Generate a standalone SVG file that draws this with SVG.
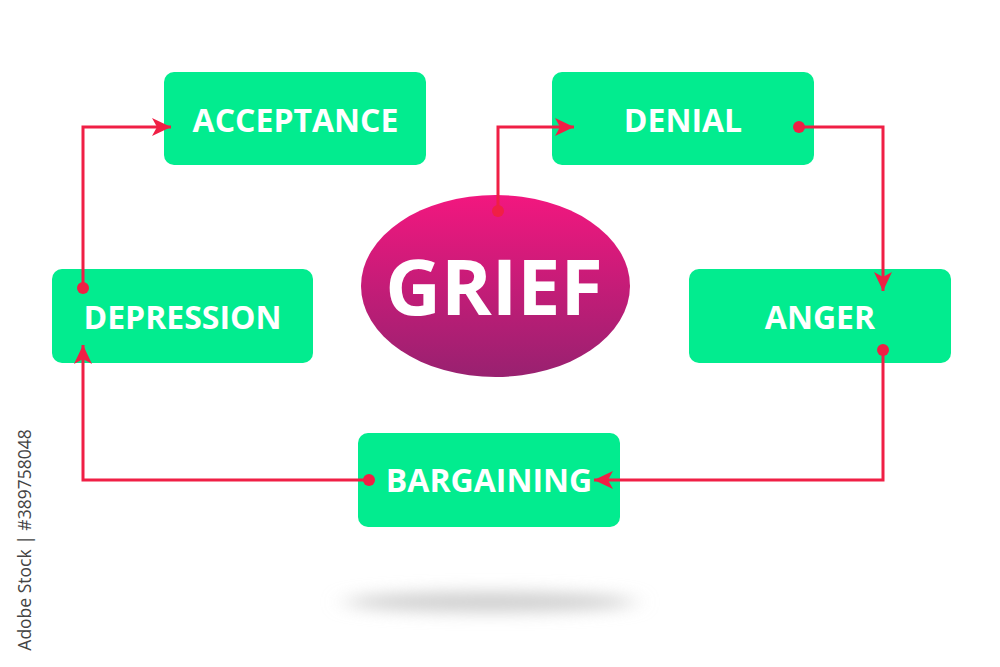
<svg xmlns="http://www.w3.org/2000/svg" width="1000" height="667" viewBox="0 0 1000 667">
  <style>
    .box { fill: #02ec8f; }
    .lbl { fill: #ffffff; font-family: "Open Sans", "Liberation Sans", sans-serif; font-weight: bold; font-size: 32px; text-anchor: middle; }
    .conn { fill: none; stroke: #f01f45; stroke-width: 3; }
    .dot { fill: #f01f45; }
  </style>
  <defs>
    <linearGradient id="griefGrad" x1="0" y1="0" x2="0" y2="1">
      <stop offset="0" stop-color="#f2177f"/>
      <stop offset="1" stop-color="#982170"/>
    </linearGradient>
    <filter id="blur" x="-50%" y="-300%" width="200%" height="700%">
      <feGaussianBlur stdDeviation="12 8"/>
    </filter>
    <marker id="arrow" markerUnits="userSpaceOnUse" viewBox="-20 -10 22 20" refX="0" refY="0" markerWidth="22" markerHeight="20" orient="auto">
      <path d="M0,0 L-19,-9 L-14,0 L-19,9 Z" fill="#f01f45"/>
    </marker>
  </defs>
  <rect width="1000" height="667" fill="#ffffff"/>

  <ellipse cx="490" cy="602" rx="145" ry="10" fill="#cfcfcf" filter="url(#blur)"/>

  <g id="grief">
    <ellipse cx="495.5" cy="286" rx="134.5" ry="91" fill="url(#griefGrad)"/>
    <text x="494" y="315" class="lbl" style="font-size:77px">GRIEF</text>
  </g>

  <g id="acceptance">
    <rect class="box" x="164" y="72" width="262" height="93" rx="10"/>
    <text class="lbl" x="295.5" y="132">ACCEPTANCE</text>
  </g>
  <g id="denial">
    <rect class="box" x="552" y="72" width="262" height="93" rx="10"/>
    <text class="lbl" x="683" y="132">DENIAL</text>
  </g>
  <g id="anger">
    <rect class="box" x="689" y="269" width="262" height="94" rx="10"/>
    <text class="lbl" x="820" y="329">ANGER</text>
  </g>
  <g id="bargaining">
    <rect class="box" x="358" y="433" width="262" height="94" rx="10"/>
    <text class="lbl" x="489" y="492">BARGAINING</text>
  </g>
  <g id="depression">
    <rect class="box" x="52" y="269" width="261" height="94" rx="10"/>
    <text class="lbl" x="182.5" y="329">DEPRESSION</text>
  </g>

  <g id="connectors">
    <path class="conn" d="M498,211 V127 H574" marker-end="url(#arrow)"/>
    <path class="conn" d="M799,127 H883 V291" marker-end="url(#arrow)"/>
    <path class="conn" d="M883,350 V480 H594" marker-end="url(#arrow)"/>
    <path class="conn" d="M369,480 H83 V345" marker-end="url(#arrow)"/>
    <path class="conn" d="M83,288 V127 H171" marker-end="url(#arrow)"/>
    <circle class="dot" cx="498" cy="211" r="6"/>
    <circle class="dot" cx="799" cy="127" r="6"/>
    <circle class="dot" cx="883" cy="350" r="6"/>
    <circle class="dot" cx="369" cy="480" r="6"/>
    <circle class="dot" cx="83" cy="288" r="6"/>
  </g>

  <text transform="translate(31,540) rotate(-90)" text-anchor="middle" font-family="'Open Sans', 'Liberation Sans', sans-serif" font-size="17.5" fill="#444444">Adobe Stock | #389758048</text>
</svg>
